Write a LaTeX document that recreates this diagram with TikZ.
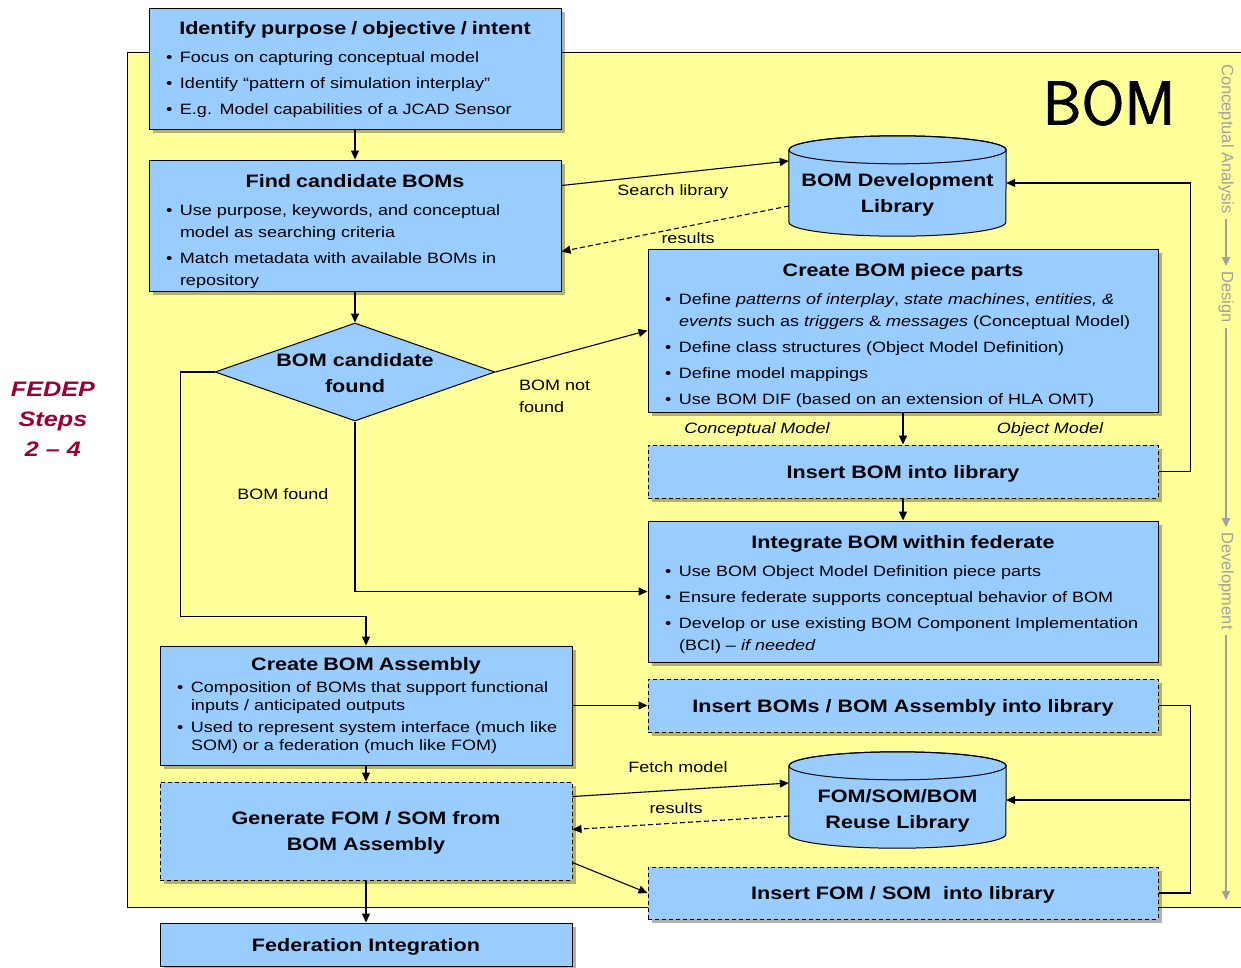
\documentclass[tikz,border=0pt]{standalone}
\usepackage{fontspec}
\setmainfont{Liberation Sans}[FakeStretch=1.2]
\newfontfamily\phasefont{Liberation Sans}
\newfontfamily\logofont{Latin Modern Sans}[FakeBold=1.2]
\usetikzlibrary{arrows.meta,shapes.geometric,shadows,calc}

\definecolor{bg}{HTML}{FFFF99}
\definecolor{boxblue}{HTML}{99CCFF}
\definecolor{fedep}{HTML}{990033}
\definecolor{phase}{HTML}{A0A0A0}

\newcommand{\bodyfont}{\fontsize{15}{22}\selectfont\parskip=4pt\relax}
\newcommand{\tightfont}{\fontsize{15}{17.5}\selectfont\parskip=5pt\relax}
\newcommand{\titlefont}{\fontsize{18}{26}\selectfont\bfseries}
\newcommand{\boxtitle}[1]{{\centering\titlefont #1\par}\vspace{2pt}}
\newcommand{\bitem}{\par\hangindent=19pt\hangafter=1\noindent\hbox to 19pt{\hspace{5pt}\textbullet\hfil}\ignorespaces}
% ends the text block; the negative skip lowers the centred block by half of #1
\newcommand{\boxend}[1]{\par\vspace{-#1}\nointerlineskip\hbox{}}

% cylinder drawn around a placeholder node: #1 node name
\newcommand{\drawcyl}[1]{%
  \fill[black,opacity=0.3,shift={(4pt,-4pt)}]
    ($(#1.north west)+(0,14)$) -- ($(#1.south west)+(0,-14)$)
    arc[start angle=180,end angle=360,x radius=108.5pt,y radius=14pt]
    -- ($(#1.north east)+(0,14)$)
    arc[start angle=0,end angle=180,x radius=108.5pt,y radius=14pt] -- cycle;
  \draw[fill=boxblue,line width=1pt]
    ($(#1.north west)+(0,14)$) -- ($(#1.south west)+(0,-14)$)
    arc[start angle=180,end angle=360,x radius=108.5pt,y radius=14pt]
    -- ($(#1.north east)+(0,14)$)
    arc[start angle=0,end angle=180,x radius=108.5pt,y radius=14pt] -- cycle;
  \draw[line width=1pt] ($(#1.north)+(0,14)$) ellipse[x radius=108.5pt,y radius=14pt];
}

\begin{document}
\begin{tikzpicture}[x=1pt,y=-1pt,
  procbox/.style={draw=black, line width=1pt, fill=boxblue,
    drop shadow={shadow xshift=4pt, shadow yshift=-4pt, fill=black, opacity=0.3},
    inner xsep=12pt, inner ysep=0pt, align=left, font=\bodyfont},
  titlebox/.style={procbox, align=center, font=\titlefont, text depth=-3pt},
  dashbox/.style={titlebox, dash pattern=on 4pt off 3pt},
  arr/.style={-{Triangle[length=9pt,width=8pt]}, line width=1.1pt},
  darr/.style={arr, dash pattern=on 5pt off 3pt},
  lbl/.style={font=\fontsize{15}{22}\selectfont, inner sep=0pt},
  cyltext/.style={font=\titlefont, align=center, inner sep=0pt},
  phasetext/.style={font=\phasefont\fontsize{16.5}{18}\selectfont, text=phase, rotate=-90, inner xsep=5pt, inner ysep=0pt},
  phasearr/.style={draw=phase, line width=1.5pt, -{Triangle[length=9pt,width=8pt]}}
]
\useasboundingbox (0,0) rectangle (1241,967);

% development area
\fill[bg] (127,52) rectangle (1241,907);
\draw[line width=1pt] (1241,52) -- (127,52) -- (127,907) -- (1241,907);

% logo and step label
\node[font=\logofont\fontsize{62}{62}\selectfont, inner sep=0pt] (logo) at (1109,103) {BOM};
\node[font=\fontsize{21}{30}\selectfont\bfseries\itshape, text=fedep, align=center] (fedep) at (53,419) {FEDEP\\Steps\\2 – 4};

% phase axis
\node[phasetext] (ca) at (1226,139) {Conceptual Analysis};
\node[phasetext] (ds) at (1226,297) {Design};
\node[phasetext] (dv) at (1226,581) {Development};
\coordinate (axisend) at (1226,900);
\draw[phasearr] (ca.east) -- (ds.west);
\draw[phasearr] (ds.east) -- (dv.west);
\draw[phasearr] (dv.east) -- (axisend);

% process boxes
\node[procbox, minimum width=412pt, minimum height=121pt, text width=388pt] (b1) at (355,68.5) {%
  \boxtitle{Identify purpose / objective / intent}
  \bitem Focus on capturing conceptual model
  \bitem Identify “pattern of simulation interplay”
  \bitem E.g. Model capabilities of a JCAD Sensor\boxend{3pt}};

\node[procbox, minimum width=412pt, minimum height=131pt, text width=388pt] (b2) at (355,225.5) {%
  \boxtitle{Find candidate BOMs}
  \bitem Use purpose, keywords, and conceptual\newline model as searching criteria
  \bitem Match metadata with available BOMs in\newline repository\boxend{12pt}};

\node[diamond, draw=black, line width=1pt, fill=boxblue, minimum width=280pt, minimum height=98pt, inner sep=0pt,
  label={[font=\titlefont, align=center, yshift=-1.5pt]center:BOM candidate\\found}] (d) at (355,372) {};

\node[procbox, minimum width=510pt, minimum height=163pt, text width=486pt] (b3) at (903,330.5) {%
  \boxtitle{Create BOM piece parts}
  \bitem Define \textit{patterns of interplay}, \textit{state machines}, \textit{entities, \&}\newline \textit{events} such as \textit{triggers} \& \textit{messages} (Conceptual Model)
  \bitem Define class structures (Object Model Definition)
  \bitem Define model mappings
  \bitem Use BOM DIF (based on an extension of HLA OMT)\boxend{11pt}};

\node[dashbox, minimum width=510pt, minimum height=53pt] (b4) at (903,471.5) {Insert BOM into library};

\node[procbox, minimum width=510pt, minimum height=141pt, text width=486pt] (b5) at (903,591.5) {%
  \boxtitle{Integrate BOM within federate}
  \bitem Use BOM Object Model Definition piece parts
  \bitem Ensure federate supports conceptual behavior of BOM
  \bitem Develop or use existing BOM Component Implementation\newline (BCI) – \textit{if needed}\boxend{6pt}};

\node[procbox, font=\tightfont, minimum width=412pt, minimum height=119pt, text width=388pt] (b6) at (366,705.5) {%
  {\centering\fontsize{18}{22}\selectfont\bfseries Create BOM Assembly\par}
  \bitem Composition of BOMs that support functional\newline inputs / anticipated outputs
  \bitem Used to represent system interface (much like\newline SOM) or a federation (much like FOM)\par};

\node[dashbox, minimum width=510pt, minimum height=53pt] (b7) at (903,705.5) {Insert BOMs / BOM Assembly into library};

\node[dashbox, minimum width=412pt, minimum height=98pt] (b8) at (366,831) {Generate FOM / SOM from\\BOM Assembly};

\node[dashbox, minimum width=510pt, minimum height=52pt] (b9) at (903,893) {Insert FOM / SOM\ \ into library};

\node[titlebox, minimum width=412pt, minimum height=43pt] (b10) at (366,944.5) {Federation Integration};

% libraries
\node[minimum width=217pt, minimum height=100pt, inner sep=0pt] (c1) at (897.5,186) {};
\drawcyl{c1}
\node[cyltext] (c1t) at ($(c1.center)+(0,9)$) {BOM Development\\Library};

\node[minimum width=217pt, minimum height=96pt, inner sep=0pt] (c2) at (897.5,800) {};
\drawcyl{c2}
\node[cyltext] (c2t) at ($(c2.center)+(0,11)$) {FOM/SOM/BOM\\Reuse Library};

% connectors
\draw[arr] (b1.south) -- (b2.north);
\draw[arr] ($(b2.north east)+(0,26)$) -- ($(c1.west)+(0,-25)$);
\draw[darr] ($(c1.west)+(0,20)$) -- ($(b2.north east)+(0,92)$);
\draw[arr] (b2.south) -- (d.north);
\draw[arr] (d.east) -- (b3.west);
\draw[arr] (d.west) -- ++(-34,0) |- ($(b6.north)+(0,-29)$) -- (b6.north);
\draw[arr] (d.south) |- (b5.west);
\draw[arr] (b3.south) -- (b4.north);
\draw[arr] (b4.east) -- ++(32,0) |- ($(c1.east)+(0,-3)$);
\draw[arr] (b4.south) -- (b5.north);
\draw[arr] (b6.east) -- (b7.west);
\draw[arr] (b6.south) -- (b8.north);
\draw[arr] ($(b8.north east)+(0,15)$) -- ($(c2.west)+(0,-17)$);
\draw[darr] ($(c2.west)+(0,16)$) -- ($(b8.north east)+(0,48)$);
\draw[arr] ($(b8.south east)+(0,-18)$) -- (b9.west);
\draw[line width=1.1pt] (b7.east) -- ++(32,0) coordinate (j) |- (b9.east);
\draw[arr] (j |- c2.east) -- (c2.east);
\draw[arr] (b8.south) -- (b10.north);

% connector labels
\node[lbl] (l1) at (673,192) {Search library};
\node[lbl] (l2) at (688,238) {results};
\node[lbl, align=left, anchor=west] (l3) at (519,396) {BOM not\\found};
\node[lbl] (l4) at (283,494) {BOM found};
\node[lbl, font=\fontsize{15}{22}\selectfont\itshape] (l5) at (757,430) {Conceptual Model};
\node[lbl, font=\fontsize{15}{22}\selectfont\itshape] (l6) at (1050,430) {Object Model};
\node[lbl] (l7) at (678,767) {Fetch model};
\node[lbl] (l8) at (676,808) {results};
\end{tikzpicture}
\end{document}
